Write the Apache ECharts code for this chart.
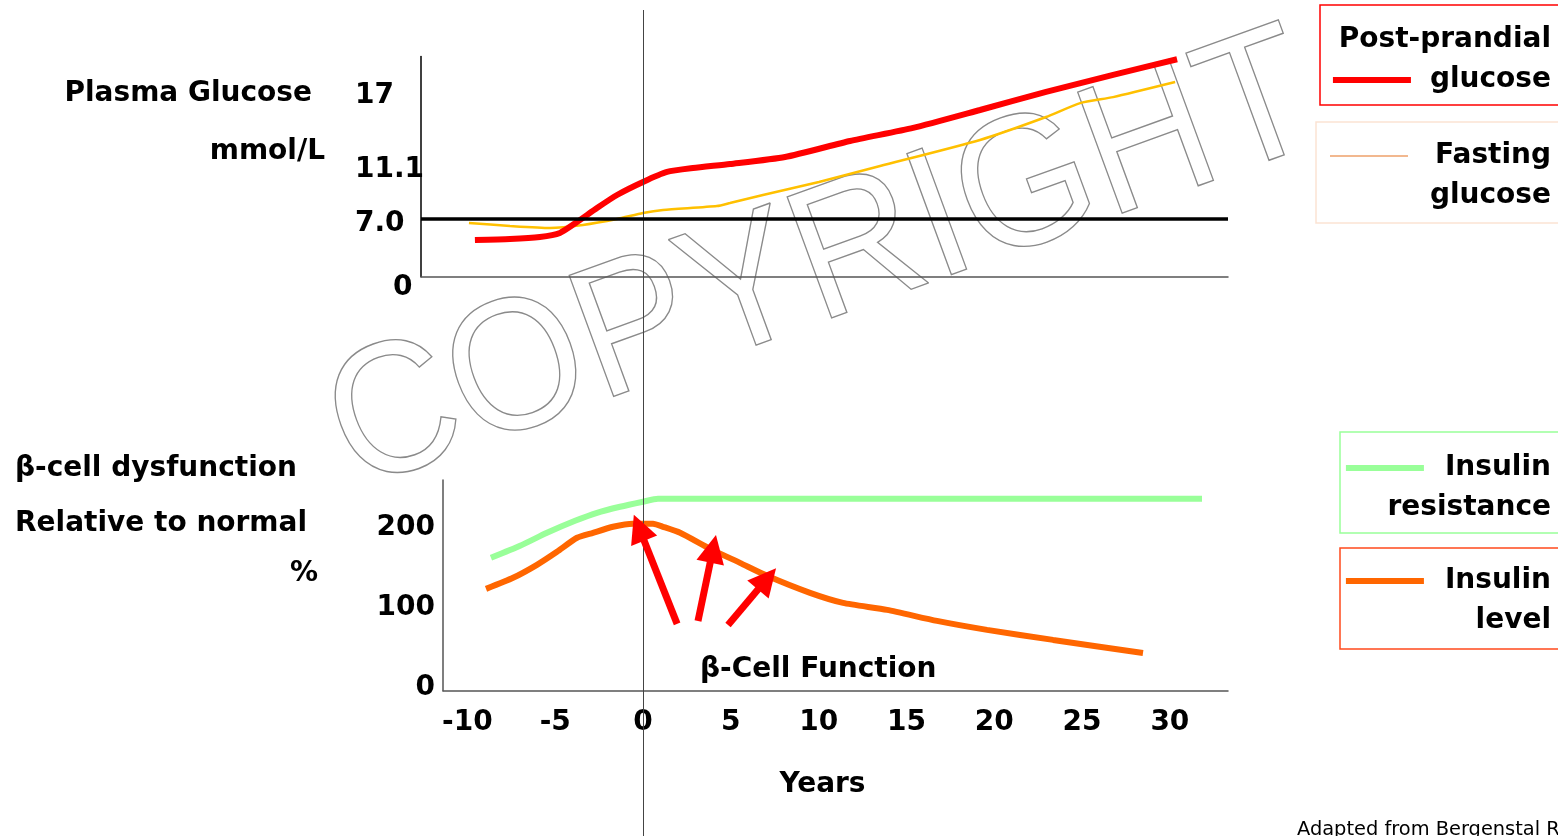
<!DOCTYPE html>
<html>
<head>
<meta charset="utf-8">
<script src="https://cdn.jsdelivr.net/npm/echarts@6/dist/echarts.min.js"></script>
<style>
  html, body { margin: 0; padding: 0; background: #fff; }
  #chart { width: 1558px; height: 836px; }
</style>
</head>
<body>
<div id="chart"></div>
<script>
// glucose curves (years, mmol/L)
const ppgYears = [-9.57, -7.57, -5.87, -4.73, -3.76, -2.62, -1.48, 0, 1.37, 2.85, 4.95, 8.09, 11.79, 15.38, 19.19, 22.95, 26.77, 30.41];
const ppgValues = [5.27, 5.35, 5.51, 5.83, 6.70, 7.82, 8.86, 9.90, 10.70, 11.01, 11.33, 11.89, 13.17, 14.21, 15.64, 17.08, 18.44, 19.69];
const fpgYears = [-9.91, -7.57, -5.30, -3.42, -1.48, 0, 1.14, 4.21, 4.95, 6.83, 10.02, 13.50, 19.19, 22.95, 24.89, 26.77, 30.30];
const fpgValues = [6.62, 6.39, 6.23, 6.47, 6.94, 7.42, 7.66, 7.98, 8.22, 8.86, 9.90, 11.17, 13.25, 15.08, 16.19, 16.67, 17.87];
const glucoseThreshold = 7.0;
const glucoseTicks = [7.0, 11.1, 17];
const glucoseTickText = ["7.0", "11.1", "17"];

// beta-cell curves (years, % of normal)
const irYears = [-8.66, -7.00, -5.47, -3.87, -2.62, -1.31, 0, 0.85, 14.64, 31.83];
const irValues = [165.9, 180.9, 197.1, 212.1, 222.1, 229.6, 235.9, 239.6, 239.6, 239.6];
const insYears = [-8.94, -7.40, -6.04, -4.90, -3.76, -2.85, -1.71, -0.57, 0.57, 1.14, 2.11, 3.82, 5.52, 7.06, 9.51, 11.39, 13.90, 16.74, 19.59, 23.35, 28.47];
const insValues = [127.1, 140.9, 157.1, 173.4, 190.9, 197.1, 204.6, 208.4, 208.4, 204.6, 197.1, 177.1, 159.6, 143.4, 122.1, 109.6, 100.9, 87.1, 75.9, 63.4, 47.1];
const arrowTails = [[1.94, 83.4], [3.13, 87.1], [4.84, 82.1]];
const arrowHeads = [[-0.23, 203.4], [3.99, 177.1], [7.06, 139.6]];
const insulinTicks = [0, 100, 200];
const yearTicks = [-10, -5, 0, 5, 10, 15, 20, 25, 30];

const FONT = "DejaVu Sans";
const zip = (xs, ys) => xs.map((x, i) => [x, ys[i]]);

const chart = echarts.init(document.getElementById("chart"));

const boldText = { fontFamily: FONT, fontWeight: "bold", fontSize: 28, color: "#000" };

function legendBox(name, left, top, width, pad, border, text, lineColor, lineH, gap) {
  return {
    data: [name],
    left: left,
    top: top,
    orient: "vertical",
    itemWidth: 0,
    itemHeight: 0,
    selectedMode: false,
    itemStyle: { opacity: 0 },
    lineStyle: { opacity: 0 },
    borderColor: border,
    borderWidth: 1.5,
    borderRadius: 0,
    padding: pad,
    formatter: () => text,
    textStyle: {
      width: width,
      align: "right",
      rich: {
        t: Object.assign({ lineHeight: 40, align: "right" }, boldText),
        ln: { width: 78, height: lineH, backgroundColor: lineColor, align: "right" },
        gap: { width: gap, align: "right" },
      },
    },
  };
}

function label(text, x, y, align) {
  return {
    type: "text",
    style: { text: text, x: x, y: y, align: align, verticalAlign: "middle", font: "bold 28px " + FONT, fill: "#000" },
  };
}

const option = {
  animation: false,
  backgroundColor: "#fff",
  grid: [
    { left: 421, right: 330, top: 56.5, bottom: 559.3 },
    { left: 443, right: 330, top: 480, bottom: 145.3 },
    { left: 443, right: 330, top: 10, bottom: 0 },
  ],
  xAxis: [
    {
      gridIndex: 0, type: "value", min: -12.64, max: 33.31,
      axisLine: { onZero: false, lineStyle: { color: "#555", width: 1.5 } },
      axisTick: { show: false }, axisLabel: { show: false }, splitLine: { show: false },
    },
    {
      gridIndex: 1, type: "value", min: -11.39, max: 33.31,
      axisLine: { onZero: false, lineStyle: { color: "#555", width: 1.5 } },
      axisTick: { show: false }, splitLine: { show: false },
      axisLabel: Object.assign({ customValues: yearTicks, margin: 18 }, boldText),
      name: "Years",
      nameLocation: "middle",
      nameGap: 80,
      nameTextStyle: Object.assign({ padding: [0, 26, 0, 0] }, boldText),
    },
    {
      gridIndex: 2, type: "value", min: -11.39, max: 33.31, show: false,
    },
  ],
  yAxis: [
    {
      gridIndex: 0, type: "value", min: 2.34, max: 19.91,
      axisLine: { show: true, onZero: false, lineStyle: { color: "#000", width: 1.5 } },
      axisTick: { show: false }, splitLine: { show: false },
      axisLabel: {
        customValues: [2.34].concat(glucoseTicks),
        align: "left",
        margin: 66,
        formatter: (v) => {
          if (v < 3) return "{z|0}";
          const i = glucoseTicks.indexOf(v);
          return i === 0 ? "{s|" + glucoseTickText[i] + "}" : "{a|" + glucoseTickText[i] + "}";
        },
        rich: {
          a: Object.assign({ padding: [5, 0, 0, 0] }, boldText),
          s: Object.assign({ padding: [11, 0, 0, 0] }, boldText),
          z: Object.assign({ padding: [22, 0, 0, 38] }, boldText),
        },
      },
    },
    {
      gridIndex: 1, type: "value", min: 0, max: 263,
      axisLine: { show: true, onZero: false, lineStyle: { color: "#555", width: 1.5 } },
      axisTick: { show: false }, splitLine: { show: false },
      axisLabel: {
        customValues: insulinTicks,
        margin: 8,
        formatter: (v) => "{a|" + v + "}",
        rich: { a: Object.assign({ padding: [0, 0, 5, 0] }, boldText) },
      },
    },
    { gridIndex: 2, type: "value", min: 0, max: 1, show: false },
  ],
  legend: [
    legendBox("Post-prandial glucose", 1320, 5, 220, [21, 16, 11, 5], "#ff0000",
      "{t|Post-prandial}\n{ln|}{gap|}{t|glucose}", "#ff0000", 6, 19),
    legendBox("Fasting glucose", 1316, 122, 224, [20, 16, 13, 5], "#fbe3d3",
      "{ln|}{gap|}{t|Fasting}\n{t|glucose}", "#eea06a", 1.5, 27),
    legendBox("Insulin resistance", 1340, 432, 200, [22, 16, 11, 5], "#99ff99",
      "{ln|}{gap|}{t|Insulin}\n{t|resistance}", "#99ff99", 6, 21),
    legendBox("Insulin level", 1340, 548, 200, [19, 16, 14, 5], "#ff4a1c",
      "{ln|}{gap|}{t|Insulin}\n{t|level}", "#ff6600", 6, 21),
  ],
  series: [
    {
      name: "vertical", type: "line", xAxisIndex: 2, yAxisIndex: 2, data: [], z: 1, silent: true,
      markLine: {
        silent: true, symbol: "none", label: { show: false },
        lineStyle: { color: "#444", width: 1, type: "solid" },
        data: [{ xAxis: 0 }],
      },
    },
    {
      name: "Post-prandial glucose", type: "line", xAxisIndex: 0, yAxisIndex: 0,
      data: zip(ppgYears, ppgValues), showSymbol: false, symbol: "none", smooth: 0.2,
      color: "#ff0000", lineStyle: { width: 6, color: "#ff0000" }, z: 4,
      markLine: {
        silent: true, symbol: "none", label: { show: false },
        lineStyle: { color: "#000", width: 3.5, type: "solid" },
        data: [{ yAxis: glucoseThreshold }],
      },
    },
    {
      name: "Fasting glucose", type: "line", xAxisIndex: 0, yAxisIndex: 0,
      data: zip(fpgYears, fpgValues), showSymbol: false, symbol: "none", smooth: 0.2,
      color: "#ffc000", lineStyle: { width: 2.5, color: "#ffc000" }, z: 3,
    },
    {
      name: "Insulin resistance", type: "line", xAxisIndex: 1, yAxisIndex: 1,
      data: zip(irYears, irValues), showSymbol: false, symbol: "none", smooth: 0.2,
      color: "#99ff99", lineStyle: { width: 6, color: "#99ff99" }, z: 3,
    },
    {
      name: "Insulin level", type: "line", xAxisIndex: 1, yAxisIndex: 1,
      data: zip(insYears, insValues), showSymbol: false, symbol: "none", smooth: 0.2,
      color: "#ff6600", lineStyle: { width: 6, color: "#ff6600" }, z: 3,
      markLine: {
        silent: true,
        symbol: ["none", "path://M0,0 L10,22 L-10,22 Z"],
        symbolSize: [28, 28],
        label: { show: false },
        lineStyle: { color: "#ff0000", width: 7, type: "solid", opacity: 1 },
        itemStyle: { color: "#ff0000" },
        data: arrowTails.map((t, i) => [{ coord: t }, { coord: arrowHeads[i] }]),
      },
    },
  ],
  graphic: [
    label("Plasma Glucose", 312, 94, "right"),
    label("mmol/L", 325, 152, "right"),
    label("β-cell dysfunction", 15, 469, "left"),
    label("Relative to normal", 15, 524, "left"),
    label("%", 318, 574, "right"),
    label("β-Cell Function", 700, 670, "left"),
    {
      type: "text",
      style: { text: "Adapted from Bergenstal RM, et al.", x: 1297, y: 830, align: "left", verticalAlign: "middle", font: "19.4px 'DejaVu Sans'", fill: "#000" },
    },
    {
      type: "group", z: 100, silent: true,
      x: 823, y: 266, scaleY: 0.99,
      children: [
        {
          type: "text", silent: true,
          rotation: (20 * Math.PI) / 180, scaleX: 0.92,
          style: {
            text: "COPYRIGHT", align: "center", verticalAlign: "middle",
            font: "189px 'Liberation Sans'", fill: "rgba(0,0,0,0)", stroke: "#8a8a8a", lineWidth: 1.4,
          },
        },
      ],
    },
  ],
};

chart.setOption(option);
</script>
</body>
</html>
